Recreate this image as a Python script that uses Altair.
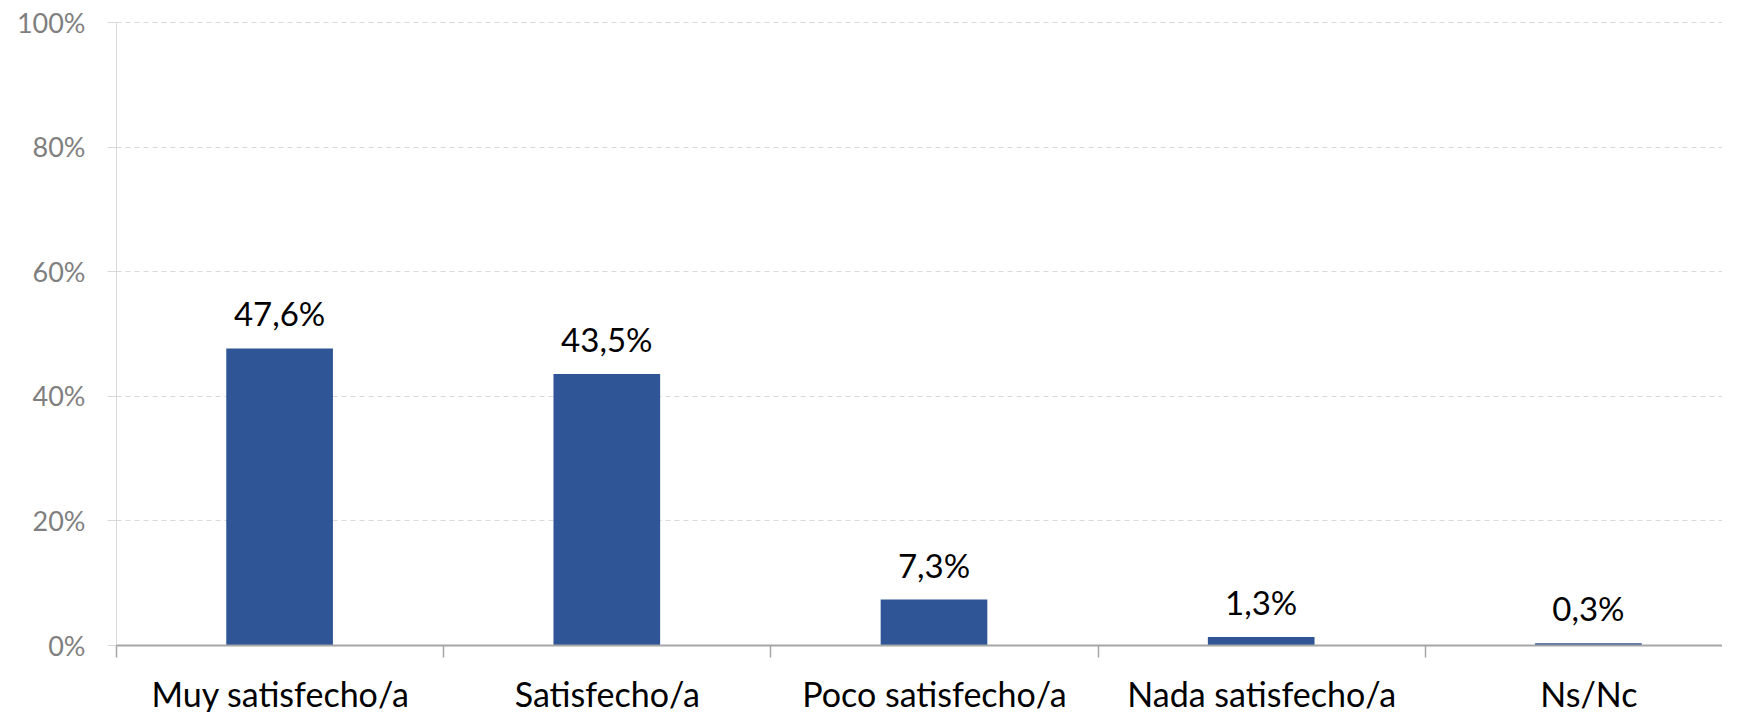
import altair as alt
import pandas as pd

categories = ["Muy satisfecho/a", "Satisfecho/a", "Poco satisfecho/a", "Nada satisfecho/a", "Ns/Nc"]
values = [47.6, 43.5, 7.3, 1.3, 0.3]
y_ticks = [0, 20, 40, 60, 80, 100]

df = pd.DataFrame({"cat": categories, "val": values})
df["label"] = [f"{v:.1f}".replace(".", ",") + "%" for v in values]

FONT = "Lato"

x = alt.X(
    "cat:N",
    sort=categories,
    scale=alt.Scale(paddingInner=0, paddingOuter=0),
    axis=alt.Axis(
        title=None, labelAngle=0, labelFont=FONT, labelFontSize=34, labelColor="#000000",
        labelPadding=22, labelLimit=0, tickBand="extent", tickSize=12, tickColor="#a6a6a6",
        tickWidth=1.5, domainColor="#a6a6a6", domainWidth=2, grid=False, zindex=1,
    ),
)
y = alt.Y(
    "val:Q",
    scale=alt.Scale(domain=[0, 100], nice=False),
    axis=alt.Axis(
        values=y_ticks, title=None, labelExpr="datum.value + '%'", labelFont=FONT,
        labelFontSize=27, labelColor="#7f7f7f", labelPadding=22, labelOffset=2, tickSize=9,
        tickColor="#d9d9d9", domainColor="#d9d9d9", grid=True, gridColor="#d9d9d9",
        gridDash=[5, 4],
    ),
)

bars = alt.Chart(df).mark_bar(color="#2F5597", width=alt.RelativeBandSize(0.326)).encode(x=x, y=y)
text = alt.Chart(df).mark_text(
    font=FONT, fontSize=33, baseline="alphabetic", dy=-22, color="#000000"
).encode(x=alt.X("cat:N", sort=categories), y="val:Q", text="label:N")

chart = (
    alt.layer(bars, text)
    .properties(
        width=1636,
        height=623,
        padding={"left": 108, "top": 14, "right": -30, "bottom": 80},
        autosize=alt.AutoSizeParams(type="none"),
        background="white",
    )
    .configure_view(stroke=None)
)

chart.save("out.html", embed_options={"renderer": "svg", "actions": False})
